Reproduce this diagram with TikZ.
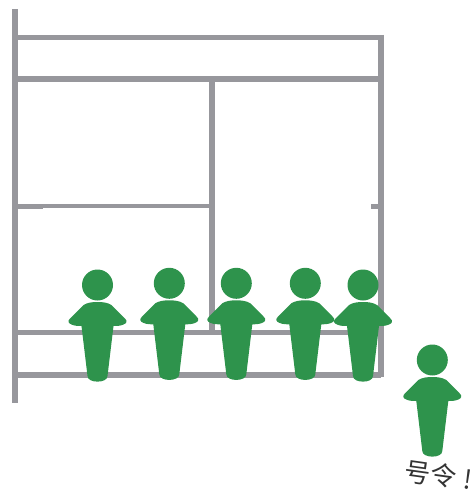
\documentclass[tikz,border=0pt]{standalone}
\usepackage{fontspec}
\newfontfamily\cjk{Noto Sans CJK SC}
\definecolor{bar}{HTML}{97979C}
\definecolor{fig}{HTML}{2E934C}
\tikzset{
  barline/.style={draw=bar,line width=5.3pt},
  person/.pic={
    \fill[fig] (0,0) circle (15.5);
    \fill[fig] (-14,20)
      .. controls (-10,17.5) and (-5,17) .. (0,17)
      .. controls (5,17) and (10,17.5) .. (14,20)
      -- (27,33)
      .. controls (30.5,36) and (29,38.5) .. (26,39.5)
      .. controls (23,41) and (19,41) .. (16,41)
      -- (10,91)
      .. controls (10,98.5) and (-10,98.5) .. (-10,91)
      -- (-16,41)
      .. controls (-19,41) and (-23,41) .. (-26,39.5)
      .. controls (-29,38.5) and (-30.5,36) .. (-27,33)
      -- cycle;
  }
}
\begin{document}
\begin{tikzpicture}[x=1pt,y=-1pt]
\useasboundingbox (0,0) rectangle (473,489);
\draw[barline] (15,9.5) -- (15,403);
\draw[barline] (15,37.5) -- (381,37.5);
\draw[barline] (15,79) -- (381,79);
\draw[barline] (381,35) -- (381,377);
\draw[barline] (212,79) -- (212,333);
\draw[barline,line width=4.5pt] (15,206.2) -- (212,206.2);
\draw[barline] (15,206.5) -- (43,206.5);
\draw[barline] (371,206.3) -- (381,206.3);
\draw[barline] (15,332.5) -- (381,332.5);
\draw[barline] (15,375) -- (381,375);
\foreach \px/\py in {97.5/285,169.3/283.3,236.3/283.3,305.3/283.3,363/285,432.3/360}
  \pic at (\px,\py) {person};
\node[rotate=-8,font=\cjk\fontsize{26}{26}\selectfont,text=black!80,inner sep=0pt] (cmd) at (438.5,475) {号令\hspace{7pt}!};
\end{tikzpicture}
\end{document}
